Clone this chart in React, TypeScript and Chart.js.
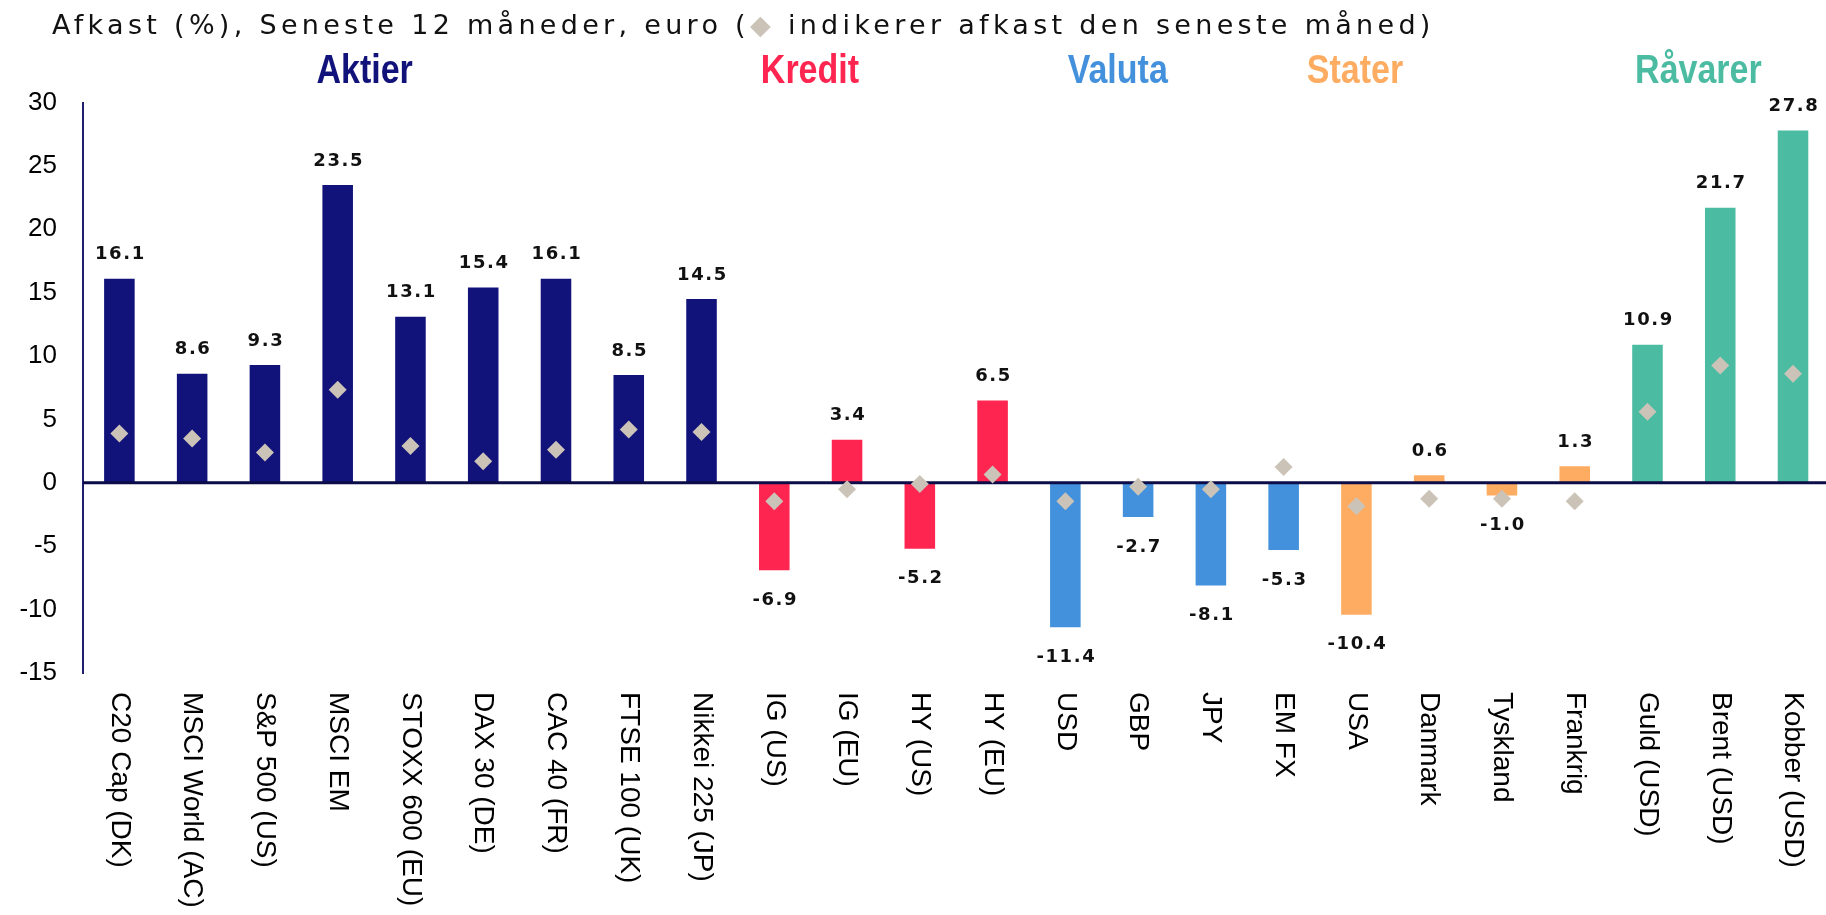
import React, { useEffect, useRef } from "react";
import { Chart, registerables } from "chart.js";

Chart.register(...registerables);

// ---------- data ----------
const categories = [
  "C20 Cap (DK)", "MSCI World (AC)", "S&P 500 (US)", "MSCI EM", "STOXX 600 (EU)",
  "DAX 30 (DE)", "CAC 40 (FR)", "FTSE 100 (UK)", "Nikkei 225 (JP)",
  "IG (US)", "IG (EU)", "HY (US)", "HY (EU)",
  "USD", "GBP", "JPY", "EM FX",
  "USA", "Danmark", "Tyskland", "Frankrig",
  "Guld (USD)", "Brent (USD)", "Kobber (USD)",
];
const yearReturns = [
  16.1, 8.6, 9.3, 23.5, 13.1, 15.4, 16.1, 8.5, 14.5,
  -6.9, 3.4, -5.2, 6.5,
  -11.4, -2.7, -8.1, -5.3,
  -10.4, 0.6, -1.0, 1.3,
  10.9, 21.7, 27.8,
];
const monthReturns = [
  3.9, 3.5, 2.4, 7.35, 2.9, 1.7, 2.6, 4.2, 4.0,
  -1.45, -0.5, -0.1, 0.65,
  -1.45, -0.3, -0.5, 1.25,
  -1.85, -1.25, -1.25, -1.45,
  5.6, 9.25, 8.6,
];
const categoryGroup = [0, 0, 0, 0, 0, 0, 0, 0, 0, 1, 1, 1, 1, 2, 2, 2, 2, 3, 3, 3, 3, 4, 4, 4];
const groupNames = ["Aktier", "Kredit", "Valuta", "Stater", "Råvarer"];
const groupColors = ["#12137A", "#FE2650", "#4391DC", "#FDAC62", "#4BBCA2"];
const groupHeaderAt = [3.37, 9.49, 13.72, 16.98, 21.7];
const yMin = -15;
const yMax = 30;
const yStep = 5;
const titleBefore = "Afkast (%), Seneste 12 måneder, euro (";
const titleMarker = "◆";
const titleAfter = " indikerer afkast den seneste måned)";
const diamondColor = "#CBC3B7";

const overlayPlugin = {
  id: "overlay",
  afterDatasetDraw(chart: any, args: any) {
    if (args.index !== 0) return;
    const ctx = chart.ctx;
    const y0 = chart.scales.y.getPixelForValue(0);
    ctx.save();
    ctx.strokeStyle = "#0C0C48";
    ctx.lineWidth = 3;
    ctx.beginPath();
    ctx.moveTo(chart.chartArea.left, y0);
    ctx.lineTo(chart.width, y0);
    ctx.stroke();
    ctx.restore();
  },
  afterDraw(chart: any) {
    const ctx = chart.ctx;
    const xs = chart.scales.x;
    const area = chart.chartArea;
    const bars = chart.getDatasetMeta(0).data;

    // value labels
    ctx.save();
    ctx.font = "bold 18px 'DejaVu Sans'";
    (ctx as any).letterSpacing = "1.6px";
    ctx.fillStyle = "#111111";
    ctx.textAlign = "center";
    ctx.textBaseline = "middle";
    bars.forEach((bar: any, i: number) => {
      const v = yearReturns[i];
      const ly = v >= 0 ? bar.y - 24 : bar.y + 30;
      ctx.fillText(v.toFixed(1), bar.x + 1, ly);
    });
    ctx.restore();

    // category labels (rotated, top to bottom)
    ctx.save();
    ctx.font = "28px 'Liberation Sans', Arial, sans-serif";
    ctx.fillStyle = "#000000";
    ctx.textAlign = "left";
    ctx.textBaseline = "middle";
    categories.forEach((c, i) => {
      const px = xs.getPixelForValue(i);
      ctx.save();
      ctx.translate(px, area.bottom + 19);
      ctx.rotate(Math.PI / 2);
      ctx.fillText(c, 0, 0);
      ctx.restore();
    });
    ctx.restore();

    // group headers
    ctx.save();
    ctx.font = "bold 40px 'Liberation Sans', Arial, sans-serif";
    ctx.textAlign = "center";
    ctx.textBaseline = "middle";
    groupNames.forEach((g, gi) => {
      const px = xs.getPixelForValue(groupHeaderAt[gi]);
      ctx.save();
      ctx.translate(px, area.top - 31);
      ctx.scale(0.85, 1);
      ctx.fillStyle = groupColors[gi];
      ctx.fillText(g, 0, 0);
      ctx.restore();
    });
    ctx.restore();

    // title
    ctx.save();
    ctx.font = "27px 'DejaVu Sans', sans-serif";
    (ctx as any).letterSpacing = "4.3px";
    ctx.textAlign = "left";
    ctx.textBaseline = "middle";
    ctx.translate(52, 27);
    let tx = 0;
    ctx.fillStyle = "#111111";
    ctx.fillText(titleBefore, tx, 0);
    tx += ctx.measureText(titleBefore).width;
    ctx.fillStyle = diamondColor;
    ctx.fillText(titleMarker, tx, 0);
    tx += ctx.measureText(titleMarker).width;
    ctx.fillStyle = "#111111";
    ctx.fillText(titleAfter, tx, 0);
    ctx.restore();
  },
};

export default function App() {
  const ref = useRef<HTMLCanvasElement | null>(null);
  useEffect(() => {
    if (!ref.current) return;
    const chart = new Chart(ref.current, {
      type: "bar",
      data: {
        labels: categories,
        datasets: [
          {
            type: "bar",
            data: yearReturns,
            backgroundColor: categoryGroup.map((g) => groupColors[g]),
            borderWidth: 0,
            barPercentage: 0.42,
            categoryPercentage: 1,
            order: 1,
          } as any,
          {
            type: "line",
            data: monthReturns,
            showLine: false,
            pointStyle: "rectRot",
            pointRadius: 9,
            pointHoverRadius: 9,
            pointBackgroundColor: diamondColor,
            pointBorderWidth: 0,
            borderColor: diamondColor,
            order: 0,
          } as any,
        ],
      },
      options: {
        responsive: false,
        animation: false,
        events: [],
        devicePixelRatio: 1,
        layout: { padding: { top: 102.5, right: 10.6, bottom: 0, left: 0 } },
        plugins: { legend: { display: false }, tooltip: { enabled: false }, title: { display: false } },
        scales: {
          x: {
            type: "category",
            offset: true,
            grid: { display: false, drawTicks: false },
            border: { display: false },
            ticks: { display: false },
            afterFit: (s: any) => {
              s.height = 242;
            },
          },
          y: {
            min: yMin,
            max: yMax,
            grid: { display: false, drawTicks: false },
            border: { display: true, color: "#1E1E6A", width: 2 },
            ticks: {
              stepSize: yStep,
              padding: 26,
              color: "#000000",
              font: { family: "'Liberation Sans', Arial, sans-serif", size: 26 },
            },
            afterFit: (s: any) => {
              s.width = 83;
            },
          },
        },
      },
      plugins: [overlayPlugin],
    });
    return () => chart.destroy();
  }, []);

  return (
    <div
      style={{
        position: "fixed",
        left: 0,
        top: 0,
        width: 1826,
        height: 915,
        overflow: "hidden",
        background: "#ffffff",
      }}
    >
      <canvas ref={ref} width={1840} height={915} style={{ display: "block", width: 1840, height: 915 }} />
    </div>
  );
}
